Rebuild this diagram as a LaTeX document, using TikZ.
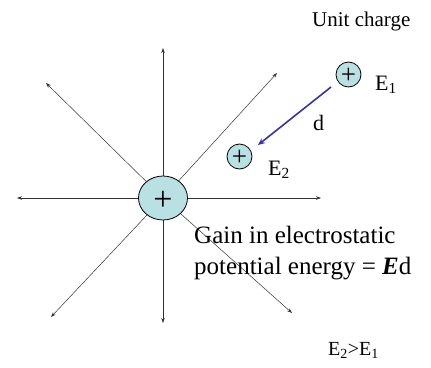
\documentclass[tikz,border=0pt]{standalone}
\usepackage{fontspec}
\setmainfont{Liberation Serif}
\usetikzlibrary{shapes.geometric,arrows.meta}
\definecolor{chargefill}{HTML}{B9E0E3}
\definecolor{darrow}{HTML}{3333AA}
\begin{document}
\begin{tikzpicture}[x=1pt,y=-1pt,
  fieldline/.style={draw=black!80, line width=0.5pt, -{Stealth[length=5pt,width=3.5pt]}},
  bigcharge/.style={ellipse, draw=black, line width=0.8pt, fill=chargefill, minimum width=49pt, minimum height=44pt, inner sep=0pt, text height=25pt, text depth=0pt, font=\fontsize{34}{34}\selectfont},
  smallcharge/.style={circle, draw=black, line width=0.8pt, fill=chargefill, minimum size=25pt, inner sep=0pt, text height=18pt, text depth=0pt, font=\fontsize{27}{27}\selectfont},
  lbl/.style={anchor=base west, inner sep=0pt, font=\fontsize{22}{22}\selectfont},
  move/.style={draw=darrow, line width=1.6pt, -{Stealth[length=7pt,width=6pt]}}]
\useasboundingbox (0,0) rectangle (431,367);
\coordinate (c) at (163,198);
\coordinate (up) at (163,48);
\coordinate (down) at (163,323);
\coordinate (left) at (17,198);
\coordinate (right) at (321,198);
\coordinate (ul) at (46,83);
\coordinate (ur) at (277,73);
\coordinate (dl) at (51,317);
\coordinate (dr) at (292,313);
\foreach \e in {up,down,left,right,ul,ur,dl,dr}
  \draw[fieldline] (c) -- (\e);
\node[bigcharge] (q) at (c) {+};
\node[smallcharge] (e1) at (348.5,74.5) {+};
\node[smallcharge] (e2) at (239.5,156.5) {+};
\coordinate (dstart) at (331,87);
\coordinate (dend) at (258,145);
\draw[move] (dstart) -- (dend);
\node[lbl, font=\fontsize{21}{21}\selectfont] (unit) at (312,26) {Unit charge};
\node[lbl] (le1) at (375,90) {E\textsubscript{1}};
\node[lbl] (ld) at (313,130) {d};
\node[lbl] (le2) at (268,175) {E\textsubscript{2}};
\node[lbl, align=left, font=\fontsize{25}{31}\selectfont] (gain) at (194,274) {Gain in electrostatic\\potential energy = \textbf{\textit{E}}d};
\node[lbl, font=\fontsize{20}{20}\selectfont] (cmp) at (328,355) {E\textsubscript{2}>E\textsubscript{1}};
\end{tikzpicture}
\end{document}
